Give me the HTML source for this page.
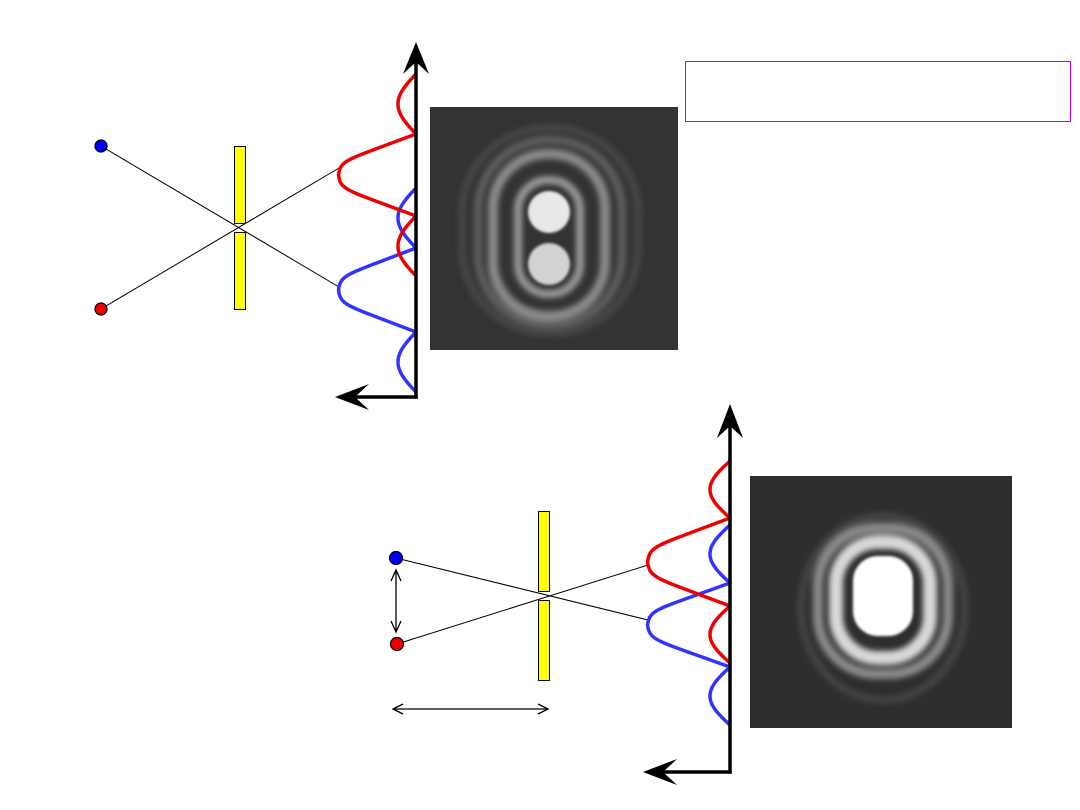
<!DOCTYPE html>
<html><head><meta charset="utf-8"><style>html,body{margin:0;padding:0;background:#fff;width:1080px;height:810px;overflow:hidden}</style></head>
<body>
<svg id="s" width="1080" height="810" viewBox="0 0 1080 810" xmlns="http://www.w3.org/2000/svg">
<defs>
<filter id="bl" x="-20%" y="-20%" width="140%" height="140%"><feGaussianBlur stdDeviation="3"/></filter>
<filter id="bl2" x="-20%" y="-20%" width="140%" height="140%"><feGaussianBlur stdDeviation="1.2"/></filter>
</defs>
<rect x="430" y="107" width="248" height="243" fill="#333"/>
<g filter="url(#bl)" fill="none">
<rect x="462" y="128" width="176" height="205" rx="85" stroke="#474747" stroke-width="7"/>
<rect x="478" y="140" width="144" height="185" rx="70" stroke="#5e5e5e" stroke-width="8"/>
<rect x="493" y="154" width="112" height="162" rx="54" stroke="#8a8a8a" stroke-width="10"/>
<rect x="518" y="180" width="62" height="114" rx="30" stroke="#9a9a9a" stroke-width="8"/>
</g>
<g filter="url(#bl2)">
<circle cx="549" cy="212" r="21" fill="#e8e8e8"/>
<circle cx="549" cy="264" r="21" fill="#d2d2d2"/>
</g>
<rect x="750" y="476" width="262" height="252" fill="#2e2e2e"/>
<g filter="url(#bl)" fill="none">
<ellipse cx="883" cy="608" rx="82" ry="92" stroke="#444" stroke-width="7"/>
<rect x="818" y="528" width="130" height="146" rx="58" stroke="#8a8a8a" stroke-width="10"/>
<rect x="836" y="542" width="94" height="116" rx="42" stroke="#d8d8d8" stroke-width="14"/>
</g>
<g filter="url(#bl2)">
<rect x="853" y="556" width="60" height="80" rx="25" fill="#ffffff"/>
</g>
<rect x="685.5" y="61.5" width="385" height="60" fill="#fff" stroke="#c000e0" stroke-width="1"/>

<line x1="101" y1="146" x2="339" y2="287" stroke="#000" stroke-width="1"/>
<line x1="101" y1="309" x2="339" y2="168" stroke="#000" stroke-width="1"/>
<rect x="234.5" y="146.5" width="11" height="77" fill="#ff0" stroke="#000"/>
<rect x="234.5" y="232.5" width="11" height="77" fill="#ff0" stroke="#000"/>
<circle cx="101" cy="146" r="6" fill="#00f" stroke="#000" stroke-width="1.2"/>
<circle cx="101" cy="309" r="6" fill="#e00" stroke="#000" stroke-width="1.2"/>

<line x1="396" y1="558" x2="648" y2="620" stroke="#000" stroke-width="1"/>
<line x1="397" y1="644" x2="648" y2="565" stroke="#000" stroke-width="1"/>
<rect x="538.5" y="511.5" width="11" height="80" fill="#ff0" stroke="#000"/>
<rect x="538.5" y="600.5" width="11" height="80" fill="#ff0" stroke="#000"/>
<circle cx="396" cy="558" r="6.5" fill="#00f" stroke="#000" stroke-width="1.2"/>
<circle cx="397" cy="644" r="6.5" fill="#e00" stroke="#000" stroke-width="1.2"/>
<g stroke="#000" stroke-width="1.3" fill="none">
<line x1="396" y1="570" x2="396" y2="632"/>
<polyline points="391,581 396,570 401,581"/>
<polyline points="391,621 396,632 401,621"/>
<line x1="393" y1="709" x2="548" y2="709"/>
<polyline points="403,704 393,709 403,714"/>
<polyline points="538,704 548,709 538,714"/>
</g>
<g id="curves"></g>

<g stroke="#000" stroke-width="3.5" fill="none" stroke-linecap="square">
<line x1="416" y1="397" x2="416" y2="50"/>
<line x1="416" y1="397" x2="345" y2="397"/>
<line x1="730" y1="772" x2="730" y2="412"/>
<line x1="730" y1="772" x2="652" y2="772"/>
</g>
<g fill="#000">
<path d="M416,42 L429,74 L416,62 L403,74 Z"/>
<path d="M335,397 L369,384 L355,397 L369,410 Z"/>
<path d="M730,404 L743,438 L730,426 L717,438 Z"/>
<path d="M643,772 L677,759 L663,772 L677,785 Z"/>
</g>
</svg>
<script>
function curve(ax,yc,w1,w2,A,B,col){
  var pts=[];
  for(var y=yc-w1-w2;y<=yc+w1+w2;y+=1){
    var t=Math.abs(y-yc),v;
    if(t<w1){var u=t/w1;var h=0.85*(1-u)/0.6;v=A*h/Math.pow(1+Math.pow(h,8),1/8);}
    else{v=B*Math.sin(Math.PI*(t-w1)/w2);}
    pts.push((ax-v).toFixed(1)+","+y);
  }
  var p=document.createElementNS("http://www.w3.org/2000/svg","polyline");
  p.setAttribute("points",pts.join(" "));
  p.setAttribute("fill","none");p.setAttribute("stroke",col);
  p.setAttribute("stroke-width","3.5");p.setAttribute("stroke-linejoin","round");
  document.getElementById("curves").appendChild(p);
}
curve(416,290,42,60,78,18,"#3333ff");
curve(416,175,41,60,78,18,"#ee0000");
curve(730,625,42,58,83,20,"#3333ff");
curve(730,562,44,57,83,20,"#ee0000");
</script>
</body></html>
